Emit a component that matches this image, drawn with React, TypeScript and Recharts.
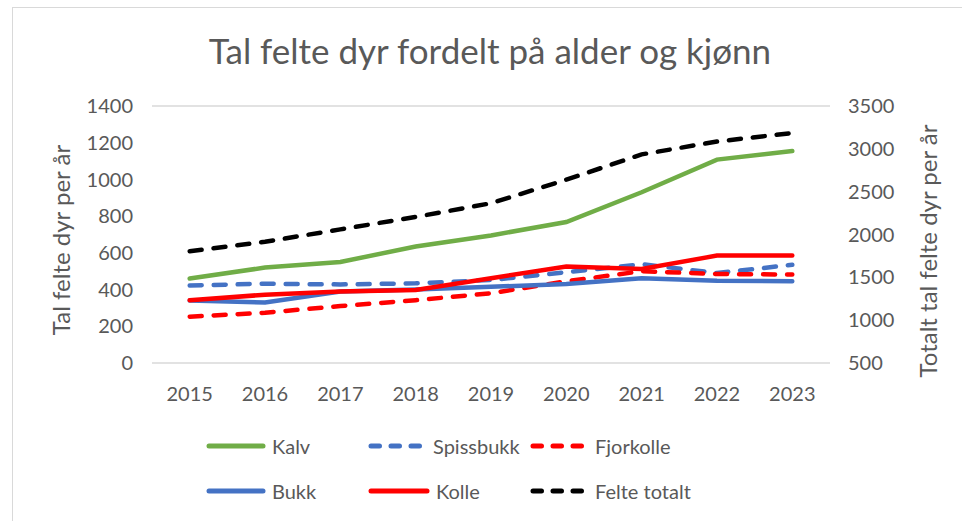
import React from 'react';
import { LineChart, Line, XAxis, YAxis, CartesianGrid } from 'recharts';

const years = ['2015', '2016', '2017', '2018', '2019', '2020', '2021', '2022', '2023'];
const kalv = [460, 520, 550, 635, 695, 768, 930, 1108, 1155];
const bukk = [340, 330, 390, 400, 415, 430, 462, 448, 445];
const spissbukk = [422, 432, 428, 434, 452, 495, 538, 490, 535];
const kolle = [342, 372, 390, 398, 462, 526, 512, 585, 585];
const fjorkolle = [252, 274, 310, 342, 380, 445, 500, 485, 482];
const felteTotalt = [1805, 1915, 2060, 2205, 2365, 2640, 2935, 3085, 3185];

const leftTicks = [0, 200, 400, 600, 800, 1000, 1200, 1400];
const rightTicks = [500, 1000, 1500, 2000, 2500, 3000, 3500];

const data = years.map((y, i) => ({
  year: y,
  kalv: kalv[i],
  bukk: bukk[i],
  spissbukk: spissbukk[i],
  kolle: kolle[i],
  fjorkolle: fjorkolle[i],
  totalt: felteTotalt[i],
}));

const FONT = 'Lato, "Open Sans", sans-serif';
const TXT = '#595959';

const legendItems = [
  { name: 'Kalv', color: '#70AD47', dashed: false, x: 206, y: 446 },
  { name: 'Spissbukk', color: '#4472C4', dashed: true, x: 368, y: 446 },
  { name: 'Fjorkolle', color: '#FF0000', dashed: true, x: 530, y: 446 },
  { name: 'Bukk', color: '#4472C4', dashed: false, x: 206, y: 491 },
  { name: 'Kolle', color: '#FF0000', dashed: false, x: 368, y: 491 },
  { name: 'Felte totalt', color: '#000000', dashed: true, x: 530, y: 491 },
];

export default function App() {
  return (
    <div style={{ position: 'absolute', left: 0, top: 0, width: 962, height: 521, background: '#fff', overflow: 'hidden', fontFamily: FONT }}>
      <div style={{ position: 'absolute', left: 12, top: 7, width: 960, height: 530, border: '1px solid #d9d9d9' }} />
      <div style={{ position: 'absolute', left: 0, top: 28, width: 980, textAlign: 'center', fontSize: 35, color: TXT, lineHeight: '44px' }}>
        Tal felte dyr fordelt på alder og kjønn
      </div>
      <div style={{ position: 'absolute', left: 60, top: 240, transform: 'translate(-50%, -50%) rotate(-90deg)', whiteSpace: 'nowrap', fontSize: 24, color: TXT }}>
        Tal felte dyr per år
      </div>
      <div style={{ position: 'absolute', left: 927, top: 251, transform: 'translate(-50%, -50%) rotate(-90deg)', whiteSpace: 'nowrap', fontSize: 24, color: TXT }}>
        Totalt tal felte dyr per år
      </div>
      <div style={{ position: 'absolute', left: 0, top: 0 }}>
        <LineChart width={962} height={521} data={data} margin={{ top: 106, bottom: 128, left: 72, right: 52 }}>
          <CartesianGrid vertical={false} stroke="#d9d9d9" strokeWidth={1.3} />
          <XAxis
            dataKey="year"
            axisLine={false}
            tickLine={false}
            padding={{ left: 37.7, right: 37.7 }}
            tick={{ fontSize: 20, fill: TXT, fontFamily: FONT }}
            tickMargin={18}
            interval={0}
          />
          <YAxis
            yAxisId="left"
            width={80}
            domain={[0, 1400]}
            ticks={leftTicks}
            axisLine={false}
            tickLine={false}
            tick={{ fontSize: 20, fill: TXT, fontFamily: FONT }}
            tickMargin={13}
          />
          <YAxis
            yAxisId="right"
            orientation="right"
            width={80}
            domain={[500, 3500]}
            ticks={rightTicks}
            axisLine={false}
            tickLine={false}
            tick={{ fontSize: 20, fill: TXT, fontFamily: FONT, textAnchor: 'start' }}
            tickMargin={12}
          />
          <Line yAxisId="left" dataKey="kalv" stroke="#70AD47" strokeWidth={4.5} dot={false} isAnimationActive={false} strokeLinecap="round" />
          <Line yAxisId="left" dataKey="spissbukk" stroke="#4472C4" strokeWidth={4.5} strokeDasharray="12 12" strokeLinecap="round" dot={false} isAnimationActive={false} />
          <Line yAxisId="left" dataKey="fjorkolle" stroke="#FF0000" strokeWidth={4.5} strokeDasharray="12 12" strokeLinecap="round" dot={false} isAnimationActive={false} />
          <Line yAxisId="left" dataKey="bukk" stroke="#4472C4" strokeWidth={4.5} dot={false} isAnimationActive={false} strokeLinecap="round" />
          <Line yAxisId="left" dataKey="kolle" stroke="#FF0000" strokeWidth={4.5} dot={false} isAnimationActive={false} strokeLinecap="round" />
          <Line yAxisId="right" dataKey="totalt" stroke="#000000" strokeWidth={4.5} strokeDasharray="12 12" strokeLinecap="round" dot={false} isAnimationActive={false} />
        </LineChart>
      </div>
      {legendItems.map((it) => (
        <div key={it.name} style={{ position: 'absolute', left: it.x, top: it.y - 14, height: 28, display: 'flex', alignItems: 'center' }}>
          <svg width={it.dashed ? 56 : it.name === 'Kolle' ? 62 : 60} height={10}>
            <line
              x1={3}
              x2={it.dashed ? 53 : it.name === 'Kolle' ? 59 : 57}
              y1={5}
              y2={5}
              stroke={it.color}
              strokeWidth={5}
              strokeLinecap="round"
              strokeDasharray={it.dashed ? '8.5 11.5' : undefined}
            />
          </svg>
          <span style={{ marginLeft: it.dashed ? 9 : 6, fontSize: 20, color: TXT }}>{it.name}</span>
        </div>
      ))}
    </div>
  );
}
